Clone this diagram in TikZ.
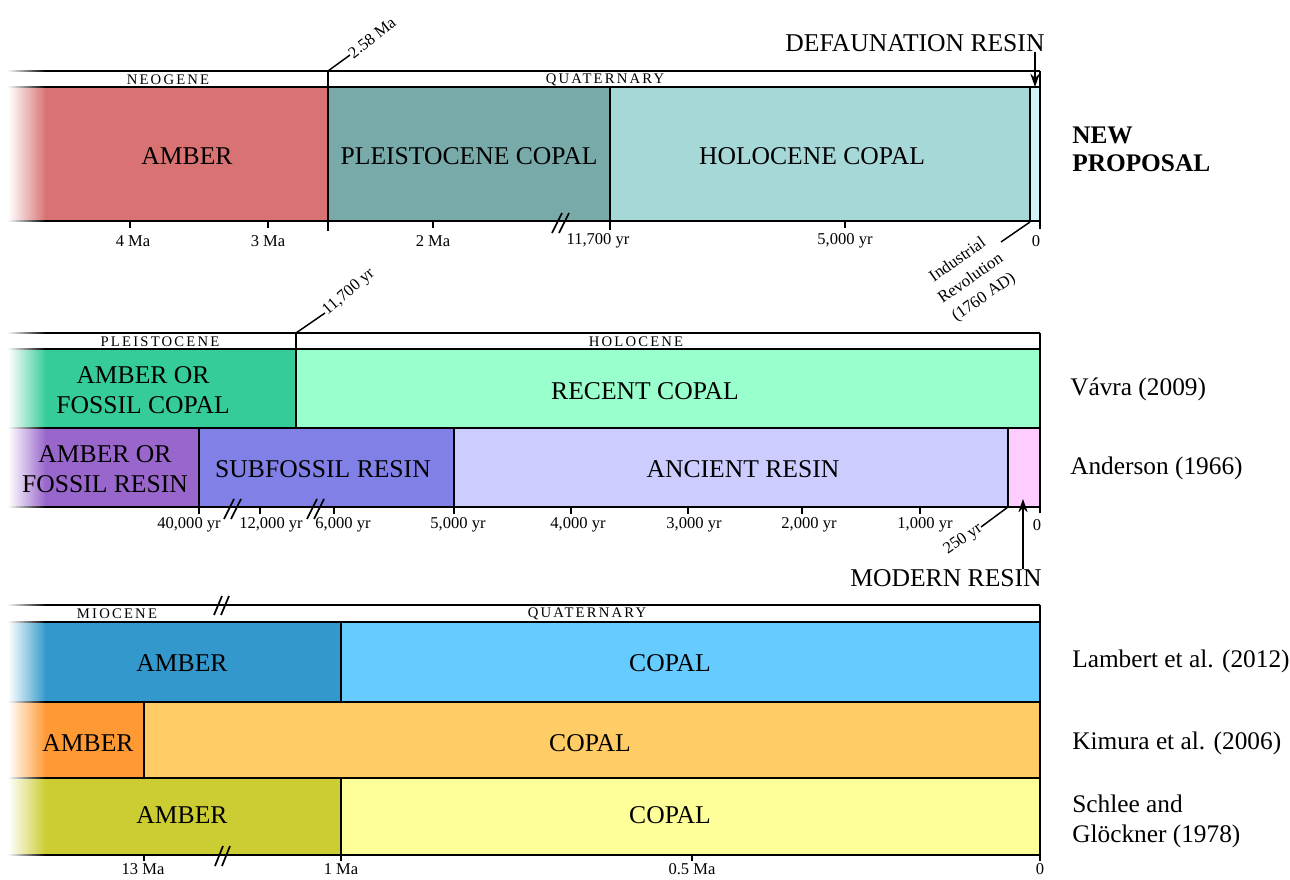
\documentclass[tikz,border=0pt]{standalone}
\usepackage{fontspec}
\setmainfont{Liberation Serif}
\newfontfamily\spaced[LetterSpace=15]{Liberation Serif}
\usetikzlibrary{arrows.meta}
\definecolor{ambA}{RGB}{217,115,115}
\definecolor{pleC}{RGB}{120,170,170}
\definecolor{holC}{RGB}{166,216,216}
\definecolor{defR}{RGB}{210,244,248}
\definecolor{afcC}{RGB}{53,204,153}
\definecolor{recC}{RGB}{153,255,204}
\definecolor{afrC}{RGB}{153,102,204}
\definecolor{sfrC}{RGB}{128,128,230}
\definecolor{ancC}{RGB}{204,204,255}
\definecolor{modC}{RGB}{255,204,255}
\definecolor{lamA}{RGB}{51,153,204}
\definecolor{lamC}{RGB}{102,204,255}
\definecolor{kimA}{RGB}{255,153,51}
\definecolor{kimC}{RGB}{255,204,102}
\definecolor{schA}{RGB}{204,204,51}
\definecolor{schC}{RGB}{255,255,153}
\newcommand\fadebar[4]{%
  \shade[left color=white, right color=#1] (8,#2) rectangle (46,#3);
  \fill[#1] (45,#2) rectangle (#4,#3);}
\newcommand\fline[2]{%
  \foreach \i in {0,...,18}{%
    \pgfmathsetmacro\pc{100*(\i+0.5)/19}%
    \draw[line width=1.5pt, black!\pc] (8+2*\i,#1) -- (10.3+2*\i,#1);}
  \draw[edge] (45,#1) -- (#2,#1);}
\tikzset{
  lbl/.style={font=\fontsize{19.2}{22.5}\selectfont, align=center, inner sep=0pt},
  refl/.style={font=\fontsize{19}{22.5}\selectfont, anchor=west, align=left, inner sep=0pt},
  ax/.style={font=\fontsize{12.4}{14}\selectfont, inner sep=0pt},
  era/.style={font=\spaced\fontsize{11}{12}\selectfont, inner sep=0pt},
  tk/.style={line width=1.1pt},
  edge/.style={line width=1.5pt},
  brk/.style={line width=1.3pt},
  arr/.style={line width=1.1pt, -{Stealth[length=10pt,width=7pt]}},
}
\begin{document}
\begin{tikzpicture}[x=0.75pt,y=-0.75pt]
\useasboundingbox (0,0) rectangle (1290,880);
% ================= Panel 1 =================
\fadebar{ambA}{87}{221}{328}
\fill[pleC] (328,87) rectangle (610,221);
\fill[holC] (610,87) rectangle (1030,221);
\fill[defR] (1030,87) rectangle (1040,221);
\fline{71}{1040}
\fline{87}{1040}
\fline{221}{1040}
\draw[edge] (1040,71) -- (1040,229);
\draw[edge] (328,71) -- (328,231);
\draw[edge] (610,87) -- (610,230);
\draw[edge] (1030,87) -- (1030,221);
\foreach \x in {130,268,433,845} \draw[tk] (\x,221) -- (\x,228);
\draw[brk] (552,233) -- (562,213);
\draw[brk] (559,233) -- (569,213);
\node[era] (neo) at (168,79.5) {NEOGENE};
\node[era] (qua1) at (605,79.5) {QUATERNARY};
\node[lbl] (amb1) at (187,156) {AMBER};
\node[lbl] (plc) at (469,156) {PLEISTOCENE COPAL};
\node[lbl] (hoc) at (812,156) {HOLOCENE COPAL};
\node[font=\bfseries\fontsize{19}{21}\selectfont, anchor=west, align=left, inner sep=0pt] (newp) at (1072,149) {NEW\\PROPOSAL};
\node[ax] (a4) at (133,241) {4 Ma};
\node[ax] (a3) at (268,241) {3 Ma};
\node[ax] (a2) at (433,241) {2 Ma};
\node[ax] (a117) at (598,241) {11,700 yr};
\node[ax] (a5k) at (845,241) {5,000 yr};
\node[ax] (a0) at (1036,241) {0};
\coordinate (c258) at (328,71);
\node[ax, rotate=38, anchor=west] (t258) at (350,55) {2.58 Ma};
\draw[tk] (c258) -- (t258.west);
\coordinate (cind) at (1030,222);
\node[font=\fontsize{12.6}{17}\selectfont, rotate=35, align=center, inner sep=0pt] (tind) at (971,279) {Industrial\\Revolution\\(1760 AD)};
\coordinate (cind2) at (1001,242);
\draw[tk] (cind) -- (cind2);
\node[font=\fontsize{19.2}{21}\selectfont, inner sep=0pt] (def) at (915,43) {DEFAUNATION RESIN};
\coordinate (defTip) at (1035,87);
\draw[arr] (def.south -| defTip) -- (defTip);
% ================= Panel 2 =================
\fadebar{afcC}{349}{428}{296}
\fill[recC] (296,349) rectangle (1040,428);
\fadebar{afrC}{428}{507}{199}
\fill[sfrC] (199,428) rectangle (454,507);
\fill[ancC] (454,428) rectangle (1008,507);
\fill[modC] (1008,428) rectangle (1040,507);
\fline{333}{1040}
\fline{349}{1040}
\fline{428}{1040}
\fline{507}{1040}
\draw[edge] (1040,333) -- (1040,513);
\draw[edge] (296,333) -- (296,428);
\draw[edge] (199,428) -- (199,514);
\draw[edge] (454,428) -- (454,514);
\draw[edge] (1008,428) -- (1008,507);
\foreach \x in {260,334,571,688,802,920} \draw[tk] (\x,507) -- (\x,514);
\draw[brk] (224,519) -- (234,499);
\draw[brk] (231,519) -- (241,499);
\draw[brk] (307,519) -- (317,499);
\draw[brk] (314,519) -- (324,499);
\node[era] (ple) at (160,341.5) {PLEISTOCENE};
\node[era] (hol) at (636,341.5) {HOLOCENE};
\node[lbl] (afc) at (143,390) {AMBER OR\\FOSSIL COPAL};
\node[lbl] (rec) at (645,391) {RECENT COPAL};
\node[lbl] (afr) at (105,469) {AMBER OR\\FOSSIL RESIN};
\node[lbl] (sfr) at (323,469) {SUBFOSSIL RESIN};
\node[lbl] (anc) at (743,469) {ANCIENT RESIN};
\node[refl] (vav) at (1070,389) {Vávra (2009)};
\node[refl] (and) at (1070,468) {Anderson (1966)};
\node[ax] (b40) at (189,525) {40,000 yr};
\node[ax] (b12) at (271,525) {12,000 yr};
\node[ax] (b6) at (343,525) {6,000 yr};
\node[ax] (b5) at (458,525) {5,000 yr};
\node[ax] (b4) at (578,525) {4,000 yr};
\node[ax] (b3) at (694,525) {3,000 yr};
\node[ax] (b2) at (809,525) {2,000 yr};
\node[ax] (b1) at (925,525) {1,000 yr};
\node[ax] (b0) at (1037,525) {0};
\coordinate (c117) at (296,333);
\node[ax, rotate=41, anchor=west] (t117) at (325,313) {11,700 yr};
\draw[tk] (c117) -- (t117.west);
\coordinate (c250) at (1008,507);
\node[ax, rotate=35, anchor=east] (t250) at (981,527) {250 yr};
\draw[tk] (c250) -- (t250.east);
\node[font=\fontsize{19.2}{21}\selectfont, inner sep=0pt] (mod) at (946,578) {MODERN RESIN};
\coordinate (modTip) at (1023,499);
\draw[arr] (mod.north -| modTip) -- (modTip);
% ================= Panel 3 =================
\fadebar{lamA}{622}{702}{341}
\fill[lamC] (341,622) rectangle (1040,702);
\fadebar{kimA}{702}{778}{144}
\fill[kimC] (144,702) rectangle (1040,778);
\fadebar{schA}{778}{855}{341}
\fill[schC] (341,778) rectangle (1040,855);
\fline{605}{1040}
\fline{622}{1040}
\fline{702}{1040}
\fline{778}{1040}
\fline{855}{1040}
\draw[edge] (1040,605) -- (1040,861);
\draw[edge] (341,622) -- (341,702);
\draw[edge] (144,702) -- (144,778);
\draw[edge] (341,778) -- (341,861);
\foreach \x in {144,692} \draw[tk] (\x,855) -- (\x,861);
\draw[brk] (214,615) -- (222,596);
\draw[brk] (221,615) -- (229,596);
\draw[brk] (215,866) -- (223,846);
\draw[brk] (222,866) -- (230,846);
\node[era] (mio) at (117,614) {MIOCENE};
\node[era] (qua3) at (587,614) {QUATERNARY};
\node[lbl] (lamAm) at (182,663) {AMBER};
\node[lbl] (lamCo) at (670,663) {COPAL};
\node[lbl] (kimAm) at (88,743) {AMBER};
\node[lbl] (kimCo) at (590,743) {COPAL};
\node[lbl] (schAm) at (182,815) {AMBER};
\node[lbl] (schCo) at (670,815) {COPAL};
\node[refl] (lam) at (1072,661) {Lambert et al. (2012)};
\node[refl] (kim) at (1072,743) {Kimura et al. (2006)};
\node[refl] (sch) at (1072,821) {Schlee and\\Glöckner (1978)};
\node[ax] (c13) at (143,869) {13 Ma};
\node[ax] (c1) at (341,869) {1 Ma};
\node[ax] (c05) at (692,869) {0.5 Ma};
\node[ax] (c0) at (1040,869) {0};
\end{tikzpicture}
\end{document}
